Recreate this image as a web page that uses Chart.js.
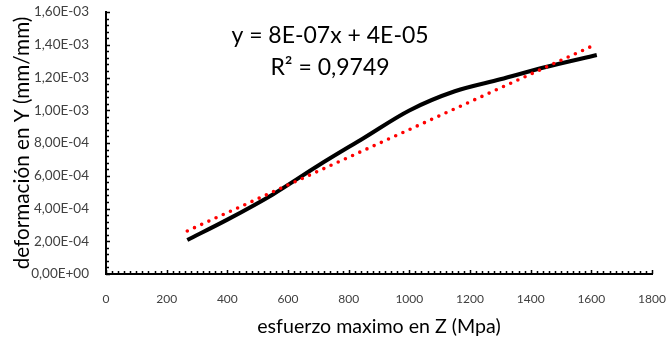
<!DOCTYPE html>
<html>
<head>
<meta charset="utf-8">
<script src="https://cdn.jsdelivr.net/npm/chart.js@4"></script>
<style>
  html, body { margin: 0; padding: 0; background: #fff; }
  #wrap { width: 666px; height: 341px; }
</style>
</head>
<body>
<div id="wrap"><canvas id="chart" width="666" height="341"></canvas></div>
<script>
// values
const stressX = [268, 400, 550, 700, 850, 1000, 1150, 1300, 1450, 1618];
const strainY = [2.08e-4, 3.32e-4, 4.86e-4, 6.63e-4, 8.31e-4, 9.99e-4, 1.116e-3, 1.189e-3, 1.264e-3, 1.337e-3];
// linear trendline ends (Excel fit)
const trendX = [268, 1618];
const trendY = [2.63e-4, 1.405e-3];
const xTicks = [0, 200, 400, 600, 800, 1000, 1200, 1400, 1600, 1800];
const yTicks = [0, 2e-4, 4e-4, 6e-4, 8e-4, 1e-3, 1.2e-3, 1.4e-3, 1.6e-3];
const eqLines = ["y = 8E-07x + 4E-05", "R\u00B2 = 0,9749"];

const FONT = "Lato";

// 1,60E-03 style
function sciLabel(v) {
  if (Math.abs(v) < 1e-12) v = 0;
  let [m, e] = v.toExponential(2).split("e");
  let sign = e[0] === "-" ? "-" : "+";
  let ex = e.replace(/[+-]/, "").padStart(2, "0");
  return m.replace(".", ",") + "E" + sign + ex;
}

// inside tick marks (major + minor) and the equation box
const extras = {
  id: "extras",
  afterDraw(chart) {
    const { ctx, chartArea, scales } = chart;
    const xs = scales.x, ys = scales.y;
    ctx.save();
    ctx.strokeStyle = "#000";
    ctx.lineWidth = 1.5;
    ctx.beginPath();
    for (let v = 0; v <= 1800; v += 20) {
      const px = Math.round(xs.getPixelForValue(v)) + 0.5;
      const len = v % 200 === 0 ? 4 : 3;
      ctx.moveTo(px, chartArea.bottom);
      ctx.lineTo(px, chartArea.bottom - len);
    }
    for (let i = 0; i <= 40; i++) {
      const v = i * 4e-5;
      const py = Math.round(ys.getPixelForValue(v)) + 0.5;
      const len = i % 5 === 0 ? 4 : 3;
      ctx.moveTo(chartArea.left, py);
      ctx.lineTo(chartArea.left + len, py);
    }
    ctx.stroke();

    ctx.fillStyle = "#000";
    ctx.font = "23px " + FONT;
    ctx.textAlign = "center";
    ctx.textBaseline = "alphabetic";
    ctx.fillText(eqLines[0], 330, 43);
    ctx.fillText(eqLines[1], 330, 75);
    ctx.restore();
  }
};

const curve = stressX.map((x, i) => ({ x: x, y: strainY[i] }));
const trend = trendX.map((x, i) => ({ x: x, y: trendY[i] }));

const config = {
  type: "line",
  data: {
    datasets: [
      {
        label: "deformación",
        data: curve,
        borderColor: "#000",
        borderWidth: 4,
        cubicInterpolationMode: "monotone",
        pointRadius: 0,
        fill: false,
        order: 1,
      },
      {
        label: "Lineal",
        data: trend,
        borderColor: "#ff0000",
        borderWidth: 3.6,
        borderDash: [0, 7.9],
        borderCapStyle: "round",
        pointRadius: 0,
        fill: false,
        order: 0,
      },
    ],
  },
  options: {
    responsive: false,
    animation: false,
    events: [],
    layout: { padding: { top: 12, right: 14, left: 0, bottom: 0 } },
    plugins: {
      legend: { display: false },
      tooltip: { enabled: false },
    },
    scales: {
      x: {
        type: "linear",
        min: 0,
        max: 1800,
        afterBuildTicks: (s) => { s.ticks = xTicks.map((v) => ({ value: v })); },
        afterFit: (s) => { s.height = 67; s.paddingLeft = 0; s.paddingRight = 0; },
        grid: { display: false },
        border: { display: true, color: "#000", width: 2 },
        ticks: {
          color: "#404040",
          font: { family: FONT, size: 12 },
          padding: 10,
          maxRotation: 0,
          autoSkip: false,
          callback: (v) => String(v),
        },
        title: {
          display: true,
          text: "esfuerzo maximo en Z (Mpa)",
          color: "#000",
          font: { family: FONT, size: 19.6 },
          padding: 3,
        },
      },
      y: {
        type: "linear",
        min: 0,
        max: 1.6e-3,
        afterBuildTicks: (s) => { s.ticks = yTicks.map((v) => ({ value: v })); },
        afterFit: (s) => { s.width = 106; s.paddingTop = 0; s.paddingBottom = 0; },
        grid: { display: false },
        border: { display: true, color: "#000", width: 2 },
        ticks: {
          color: "#404040",
          font: { family: FONT, size: 13.5 },
          padding: 9,
          callback: (v) => sciLabel(v),
        },
        title: {
          display: true,
          text: "deformación en Y (mm/mm)",
          color: "#000",
          font: { family: FONT, size: 20.7 },
          padding: 10,
        },
      },
    },
  },
  plugins: [extras],
};

const ctx = document.getElementById("chart").getContext("2d");
new Chart(ctx, config);
</script>
</body>
</html>
